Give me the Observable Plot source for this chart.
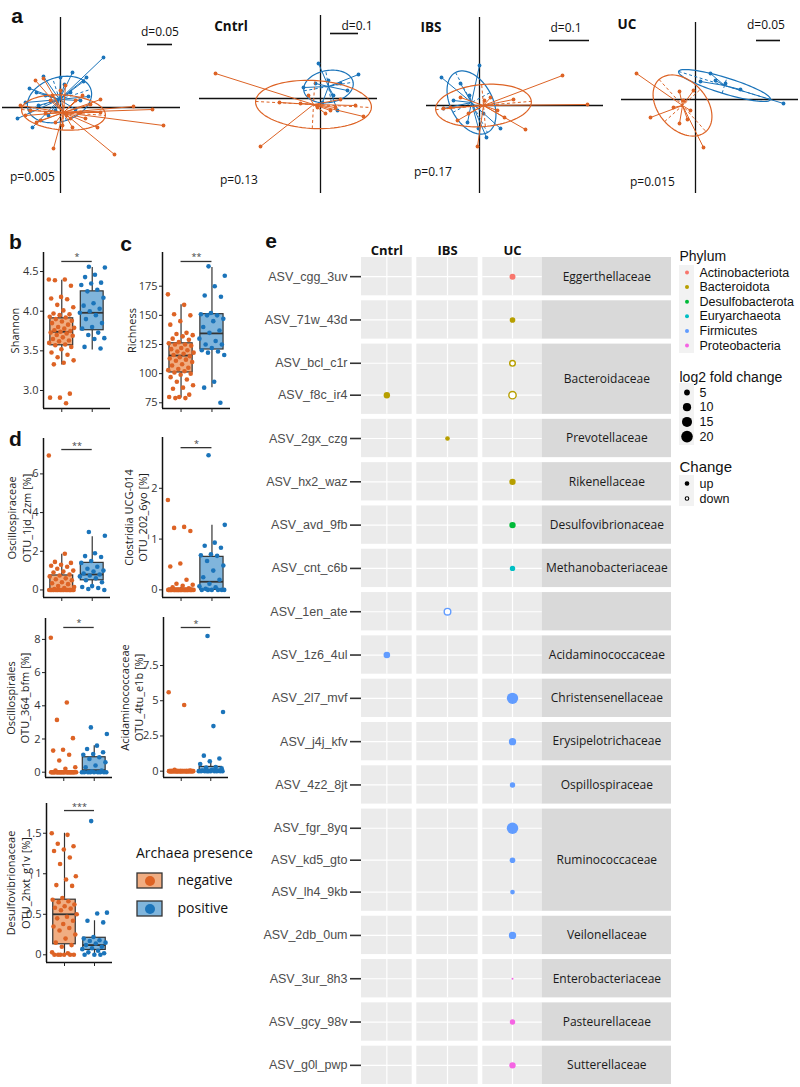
<!DOCTYPE html>
<html><head><meta charset="utf-8">
<script src="https://cdn.jsdelivr.net/npm/d3@7"></script>
<script src="https://cdn.jsdelivr.net/npm/@observablehq/plot@0.6"></script>
<style>
body{margin:0;background:#fff;}
#root{position:relative;width:800px;height:1087px;overflow:hidden;background:#fff;font-family:"Open Sans",sans-serif;color:#111;}
.lbl{position:absolute;white-space:nowrap;line-height:1;}
</style></head>
<body><div id="root"></div>
<script>
// ---------------- DATA ----------------
// Panel a: ordination scores [axis1, axis2] (plot units), negative / positive archaea
const ordTitles = ["", "Cntrl", "IBS", "UC"];
const ordPValues = ["p=0.005", "p=0.13", "p=0.17", "p=0.015"];
const ordGridLabels = ["d=0.05", "d=0.1", "d=0.1", "d=0.05"];
const ordAllNeg = [[103,-18],[92,-2],[73,1],[54,-47],[-7,-41],[37,-20],[40,8],[-25,27],[-17,29],[0,17],[30,3],[20,-5],[10,-11],[-20,-13],[-15,-6],[-30,-3],[-5,-15],[15,7],[6,-8],[25,-11],[-10,7],[2,-18],[40,-5],[-24,-15],[-35,-8],[12,-20],[-8,12],[22,12],[-40,2],[5,22]];
const ordAllPos = [[43,50],[12,35],[23,26],[-31,19],[-43,-11],[-28,-20],[-17,31],[26,30],[10,15],[-15,12],[-22,2],[20,7],[-5,-3],[-12,-8],[4,23],[28,11],[-24,15],[-35,5],[0,30],[15,-2]];
const ordCntrlNeg = [[-105,25],[-60,-48],[43,-18],[35,-7],[20,-1],[-41,-4],[15,-9],[10,-12],[-3,-9],[-12,3],[-20,-5],[5,-15]];
const ordCntrlPos = [[-2,35],[38,24],[-17,11],[17,-12],[-5,15],[13,3],[27,8],[2,-4],[8,18],[20,15]];
const ordIbsNeg = [[83,30],[108,1],[46,-24],[-2,-41],[34,6],[18,-5],[-29,-2],[-19,8],[-22,-15],[-36,-3],[11,8],[-11,-8],[25,-12],[5,5]];
const ordIbsPos = [[-38,28],[0,40],[21,-23],[7,-32],[-12,-17],[-36,-3],[-1,-23],[-19,22],[-26,5],[4,-8],[-10,10]];
const ordUcNeg = [[-59,26],[-45,-18],[8,-48],[-16,-24],[-16,8],[-2,9],[-5,-11],[-12,-1],[-22,-8],[-8,-20]];
const ordUcPos = [[88,-4],[15,26],[5,18],[30,16],[20,19],[45,10]];
// group ellipses: [centre x, centre y, semi-axis a, semi-axis b, angle deg]
const ordEllipseNeg = [[3,-5,42,17.5,-4],[-7,-6,58,24,-3],[4,0,48,21,5],[-13,-6,35,24,-48]];
const ordEllipsePos = [[-1,8,33,22,18],[8,12,25,16,10],[-8,3,34,21,-62],[29,14,48,8,-17]];

// Panels b, c: alpha diversity
const shannonNeg = [4.40,4.40,4.39,4.32,4.18,4.16,4.15,4.08,4.05,4.01,3.97,3.96,3.95,3.93,3.92,3.90,3.88,3.87,3.85,3.83,3.80,3.79,3.78,3.76,3.75,3.74,3.73,3.72,3.70,3.69,3.67,3.65,3.63,3.62,3.60,3.58,3.57,3.55,3.52,3.48,3.45,3.42,3.38,3.35,3.33,2.96,2.91,2.91,2.84];
const shannonPos = [4.56,4.55,4.46,4.43,4.36,4.35,4.33,4.27,4.25,4.17,4.10,4.07,4.03,4.00,3.98,3.95,3.90,3.85,3.80,3.78,3.73,3.70,3.66,3.65,3.55,3.53];
const shannonBoxNeg = [3.32,3.57,3.74,3.91,4.39];
const shannonBoxPos = [3.51,3.76,3.98,4.25,4.55];
const shannonTicks = [3,3.5,4,4.5];
const richnessNeg = [168,159,151,150,145,142,135,134,133,132,130,129,127,126,125,125,124,122,121,120,119,118,117,116,115,114,113,112,111,110,108,107,105,104,103,102,101,100,99,97,95,93,90,88,87,82,80,80,79,79];
const richnessPos = [192,184,175,167,166,152,151,150,150,147,145,140,137,135,130,128,125,125,122,120,119,118,116,93,88,75];
const richnessBoxNeg = [79,101,115.5,126,159];
const richnessBoxPos = [88,120.7,134.5,151,191];
const richnessTicks = [75,100,125,150,175];

// Panel d: relative abundances [%]
const osc1Neg = [6.95,1.87,1.45,1.40,1.30,1.25,1.20,1.10,1.00,0.95,0.90,0.80,0.75,0.70,0.60,0.55,0.50,0.40,0.35,0.30,0.20,0.15,0.10,0.05,0,0,0,0,0,0,0,0,0,0,0,0,0,0,0,0,0,0,0,0,0,0];
const osc1Pos = [3.00,2.80,1.90,1.75,1.70,1.50,1.40,1.20,1.10,1.00,0.95,0.85,0.80,0.75,0.70,0.60,0.50,0.40,0.20,0.15,0.10,0.05,0];
const osc1BoxNeg = [0,0,0.04,0.75,1.85];
const osc1BoxPos = [0.12,0.5,0.8,1.4,2.75];
const osc1Ticks = [0,2,4,6];
const closNeg = [1.77,1.24,1.22,1.16,0.52,0.46,0.20,0.12,0.10,0.08,0.05,0.03,0,0,0,0,0,0,0,0,0,0,0,0,0,0,0,0,0,0,0,0,0,0,0,0,0,0,0,0,0,0];
const closPos = [2.65,1.28,0.93,0.87,0.83,0.70,0.68,0.67,0.57,0.48,0.38,0.25,0.20,0.12,0.07,0.05,0.02,0,0,0,0,0,0];
const closBoxNeg = [0,0,0,0.02,0.05];
const closBoxPos = [0,0,0.16,0.65,1.27];
const closTicks = [0,1,2];
const oscsNeg = [8.1,4.2,3.15,2.05,1.35,1.3,1.05,0.7,0.3,0.2,0.1,0,0,0,0,0,0,0,0,0,0,0,0,0,0,0,0,0,0,0,0,0,0,0,0,0,0,0,0,0,0,0];
const oscsPos = [2.7,2.3,1.6,1.4,1.2,1.1,1.05,0.9,0.8,0.6,0.4,0.3,0.1,0.05,0,0,0,0,0,0,0,0,0];
const oscsBoxNeg = [0,0,0,0.03,0.06];
const oscsBoxPos = [0,0.03,0.12,0.9,1.6];
const oscsTicks = [0,2,4,6,8];
const acidNeg = [5.6,4.7,0.1,0.05,0,0,0,0,0,0,0,0,0,0,0,0,0,0,0,0,0,0,0,0,0,0,0,0,0,0,0,0,0,0,0,0,0,0,0,0,0,0];
const acidPos = [9.6,4.2,3.2,1.1,0.9,0.7,0.5,0.3,0.25,0.2,0.1,0.05,0.02,0,0,0,0,0,0,0,0,0,0];
const acidBoxNeg = [0,0,0,0.03,0.06];
const acidBoxPos = [0,0.02,0.1,0.3,0.65];
const acidTicks = [0,2.5,5,7.5];
const desuNeg = [1.50,1.48,1.37,1.34,1.30,1.28,1.20,1.12,0.97,0.93,0.86,0.85,0.70,0.68,0.66,0.65,0.62,0.60,0.58,0.57,0.55,0.50,0.47,0.45,0.42,0.38,0.35,0.33,0.30,0.25,0.20,0.15,0.12,0.10,0.03,0.02,0,0,0,0,0,0];
const desuPos = [1.65,0.52,0.51,0.42,0.40,0.22,0.20,0.18,0.17,0.15,0.14,0.12,0.10,0.08,0.07,0.05,0.03,0.02,0,0,0];
const desuBoxNeg = [0,0.13,0.5,0.68,1.5];
const desuBoxPos = [0,0.06,0.12,0.21,0.42];
const desuTicks = [0,0.5,1,1.5];
const sigValues = [4.627,196.2,7.26,2.80,8.72,10.2,1.78];
const sigStars = ["*","**","**","*","*","*","***"];
const presenceLevels = ["negative","positive"];

// Panel e: differentially abundant ASVs
const asvNames = ["ASV_cgg_3uv","ASV_71w_43d","ASV_bcl_c1r","ASV_f8c_ir4","ASV_2gx_czg","ASV_hx2_waz","ASV_avd_9fb","ASV_cnt_c6b","ASV_1en_ate","ASV_1z6_4ul","ASV_2l7_mvf","ASV_j4j_kfv","ASV_4z2_8jt","ASV_fgr_8yq","ASV_kd5_gto","ASV_lh4_9kb","ASV_2db_0um","ASV_3ur_8h3","ASV_gcy_98v","ASV_g0l_pwp"];
const asvFamily = ["Eggerthellaceae","","Bacteroidaceae","Bacteroidaceae","Prevotellaceae","Rikenellaceae","Desulfovibrionaceae","Methanobacteriaceae","","Acidaminococcaceae","Christensenellaceae","Erysipelotrichaceae","Ospillospiraceae","Ruminococcaceae","Ruminococcaceae","Ruminococcaceae","Veilonellaceae","Enterobacteriaceae","Pasteurellaceae","Sutterellaceae"];
const asvPhylum = ["Actinobacteriota","Bacteroidota","Bacteroidota","Bacteroidota","Bacteroidota","Bacteroidota","Desulfobacterota","Euryarchaeota","Firmicutes","Firmicutes","Firmicutes","Firmicutes","Firmicutes","Firmicutes","Firmicutes","Firmicutes","Firmicutes","Proteobacteria","Proteobacteria","Proteobacteria"];
const diagnosisGroups = ["Cntrl","IBS","UC"];
const hitAsv = ["ASV_cgg_3uv","ASV_71w_43d","ASV_bcl_c1r","ASV_f8c_ir4","ASV_f8c_ir4","ASV_2gx_czg","ASV_hx2_waz","ASV_avd_9fb","ASV_cnt_c6b","ASV_1en_ate","ASV_1z6_4ul","ASV_2l7_mvf","ASV_j4j_kfv","ASV_4z2_8jt","ASV_fgr_8yq","ASV_kd5_gto","ASV_lh4_9kb","ASV_2db_0um","ASV_3ur_8h3","ASV_gcy_98v","ASV_g0l_pwp"];
const hitGroup = ["UC","UC","UC","Cntrl","UC","IBS","UC","UC","UC","IBS","Cntrl","UC","UC","UC","UC","UC","UC","UC","UC","UC","UC"];
const hitLog2FC = [5.3,4.7,4.7,6,8,3.2,6,6,4.3,6.5,6.5,19,8,4.3,19.5,4.7,3.3,8,0.6,4.3,6];
const hitChange = ["up","up","down","up","down","up","up","up","up","down","up","up","up","up","up","up","up","up","up","up","up"];
const phylumLevels = ["Actinobacteriota","Bacteroidota","Desulfobacterota","Euryarchaeota","Firmicutes","Proteobacteria"];
const lfcBreaks = [5,10,15,20];
const changeLevels = ["up","down"];

// ---------------- STYLE ----------------
const ORANGE = "#DD6325", BLUE = "#1B74BA", ORANGE_L = "#F0AD82", BLUE_L = "#80B5DC";
const PHYLUM_COLORS = ["#F8766D","#B79F00","#00BA38","#00BFC4","#619CFF","#F564E3"];
const MYRIAD = "Open Sans", ARIAL = "Liberation Sans";
const root = document.getElementById("root");
const TRANSP = {background:"transparent", overflow:"visible"};

function place(node, left, top) {
  node.style.position = "absolute"; node.style.left = left + "px"; node.style.top = top + "px";
  root.appendChild(node);
}
function label(text, x, y, css = {}, anchor = "middle") {
  const d = document.createElement("div");
  d.className = "lbl"; d.textContent = text;
  d.style.left = x + "px"; d.style.top = y + "px";
  d.style.transform = anchor === "start" ? "translate(0,-50%)" : "translate(-50%,-50%)";
  Object.assign(d.style, css);
  root.appendChild(d);
}

// ---------------- PANEL a ----------------
const ordNeg = [ordAllNeg, ordCntrlNeg, ordIbsNeg, ordUcNeg];
const ordPos = [ordAllPos, ordCntrlPos, ordIbsPos, ordUcPos];
const ordLayout = [
  {left:0, width:190, ox:60, oy:107, ext:[-58,120,90,-86], bar:[63,87,112]},
  {left:195, width:190, ox:320, oy:98, ext:[-121,57,83,-95], bar:[65,10,38]},
  {left:420, width:190, ox:479, oy:105, ext:[-53,124,88,-88], bar:[65,70,110]},
  {left:615, width:185, ox:695, oy:99, ext:[-74,103,77,-94], bar:[59,61,85]}
];
function ellipsePts([cx, cy, a, b, deg]) {
  const t = deg * Math.PI / 180;
  return d3.range(0, 361, 4).map(k => {
    const u = k * Math.PI / 180;
    return {x: cx + a*Math.cos(u)*Math.cos(t) - b*Math.sin(u)*Math.sin(t),
            y: cy + a*Math.cos(u)*Math.sin(t) + b*Math.sin(u)*Math.cos(t)};
  });
}
function ellipseAxes([cx, cy, a, b, deg]) {
  const t = deg * Math.PI / 180;
  return [
    {x1: cx - a*Math.cos(t), y1: cy - a*Math.sin(t), x2: cx + a*Math.cos(t), y2: cy + a*Math.sin(t)},
    {x1: cx + b*Math.sin(t), y1: cy - b*Math.cos(t), x2: cx - b*Math.sin(t), y2: cy + b*Math.cos(t)}
  ];
}
function groupMarks(pts, ell, color) {
  return [
    Plot.link(pts, {x1: ell[0], y1: ell[1], x2: d => d[0], y2: d => d[1], stroke: color, strokeWidth: 1}),
    Plot.line(ellipsePts(ell), {x: "x", y: "y", stroke: color, strokeWidth: 1.2}),
    Plot.link(ellipseAxes(ell), {x1: "x1", y1: "y1", x2: "x2", y2: "y2", stroke: color, strokeWidth: 1, strokeDasharray: "3,2.5"}),
    Plot.dot(pts, {x: d => d[0], y: d => d[1], r: 1.9, fill: color})
  ];
}
ordLayout.forEach((L, k) => {
  const H = 197;
  const svg = Plot.plot({
    width: L.width, height: H, margin: 0,
    x: {domain: [L.left - L.ox, L.left + L.width - L.ox], range: [0, L.width], axis: null},
    y: {domain: [L.oy - H, L.oy], range: [H, 0], axis: null},
    style: TRANSP,
    marks: [
      Plot.ruleY([0], {x1: L.ext[0], x2: L.ext[1], stroke: "#111", strokeWidth: 1.3}),
      Plot.ruleX([0], {y1: L.ext[2], y2: L.ext[3], stroke: "#111", strokeWidth: 1.3}),
      ...groupMarks(ordPos[k], ordEllipsePos[k], BLUE),
      ...groupMarks(ordNeg[k], ordEllipseNeg[k], ORANGE),
      Plot.ruleY([L.bar[0]], {x1: L.bar[1], x2: L.bar[2], stroke: "#111", strokeWidth: 1.6})
    ]
  });
  place(svg, L.left, 0);
});
const ordTextPos = [
  {title:[0,0], grid:[160,32], p:[10,177]},
  {title:[231,27], grid:[357,26], p:[220,180]},
  {title:[431,28], grid:[566,28], p:[414,172]},
  {title:[627,25], grid:[766,25], p:[630,182]}
];
ordTextPos.forEach((t, k) => {
  if (ordTitles[k]) label(ordTitles[k], t.title[0], t.title[1], {fontFamily: MYRIAD, fontWeight: "700", fontSize: "13.5px"});
  label(ordGridLabels[k], t.grid[0], t.grid[1], {fontFamily: MYRIAD, fontSize: "12px"});
  label(ordPValues[k], t.p[0], t.p[1], {fontFamily: MYRIAD, fontSize: "12px"}, "start");
});

// ---------------- PANELS b, c, d ----------------
const boxPanels = [
  {neg: shannonNeg, pos: shannonPos, nb: shannonBoxNeg, pb: shannonBoxPos, ticks: shannonTicks, fmt: d3.format(".1f"), label: "Shannon",
   geom: [43,252,408,110], domain: [2.773,4.740], labelX: 14, svgLeft: 0},
  {neg: richnessNeg, pos: richnessPos, nb: richnessBoxNeg, pb: richnessBoxPos, ticks: richnessTicks, fmt: d => d, label: "Richness",
   geom: [162,252,408,230], domain: [70.1,203.9], labelX: 131, svgLeft: 115},
  {neg: osc1Neg, pos: osc1Pos, nb: osc1BoxNeg, pb: osc1BoxPos, ticks: osc1Ticks, fmt: d => d, label: "Oscillospiraceae\nOTU_1jd_2zm [%]",
   geom: [43,438,597,110], domain: [-0.39,7.83], labelX: 18.5, svgLeft: 0},
  {neg: closNeg, pos: closPos, nb: closBoxNeg, pb: closBoxPos, ticks: closTicks, fmt: d => d, label: "Clostridia UCG-014\nOTU_202_6yo [%]",
   geom: [162,437,597,230], domain: [-0.15,3.0], labelX: 135, svgLeft: 115},
  {neg: oscsNeg, pos: oscsPos, nb: oscsBoxNeg, pb: oscsBoxPos, ticks: oscsTicks, fmt: d => d, label: "Oscillospirales\nOTU_364_bfm [%]",
   geom: [45,618,777,112], domain: [-0.32,9.26], labelX: 17, svgLeft: 0},
  {neg: acidNeg, pos: acidPos, nb: acidBoxNeg, pb: acidBoxPos, ticks: acidTicks, fmt: d => d, label: "Acidaminococcaceae\nOTU_4tu_e1b [%]",
   geom: [163,617,777,228], domain: [-0.45,10.91], labelX: 131, svgLeft: 115},
  {neg: desuNeg, pos: desuPos, nb: desuBoxNeg, pb: desuBoxPos, ticks: desuTicks, fmt: d => d, label: "Desulfovibrionaceae\nOTU_2hxt_g1v [%]",
   geom: [46,803,962,112], domain: [-0.095,1.867], labelX: 17.5, svgLeft: 0}
];
const jitter = (g, i) => g + ((i * 0.6180339887 + (g === 2 ? 0.37 : 0)) % 1 - 0.5) * 0.85;
boxPanels.forEach((p, k) => {
  const [ax, top, bottom, right] = p.geom;
  const mt = 12, mb = 8, mr = 5;
  const ml = ax - p.svgLeft;
  const width = right - p.svgLeft + mr;
  const height = bottom - top + mt + mb;
  const boxes = [{g: 1, s: p.nb, fill: ORANGE_L}, {g: 2, s: p.pb, fill: BLUE_L}];
  const negPts = p.neg.map((v, i) => ({x: jitter(1, i), v}));
  const posPts = p.pos.map((v, i) => ({x: jitter(2, i), v}));
  const svg = Plot.plot({
    width, height, marginLeft: ml, marginRight: mr, marginTop: mt, marginBottom: mb,
    x: {domain: [0.4, 2.6], axis: null},
    y: {domain: p.domain, axis: null},
    style: {...TRANSP, fontFamily: MYRIAD, fontSize: "11px", color: "#222"},
    marks: [
      Plot.ruleX(boxes, {x: "g", y1: d => d.s[0], y2: d => d.s[1], stroke: "#333", strokeWidth: 1.2}),
      Plot.ruleX(boxes, {x: "g", y1: d => d.s[3], y2: d => d.s[4], stroke: "#333", strokeWidth: 1.2}),
      Plot.rect(boxes, {x1: d => d.g - 0.375, x2: d => d.g + 0.375, y1: d => d.s[1], y2: d => d.s[3], fill: "fill", stroke: "#333", strokeWidth: 1.2}),
      Plot.ruleY(boxes, {y: d => d.s[2], x1: d => d.g - 0.375, x2: d => d.g + 0.375, stroke: "#333", strokeWidth: 1.8}),
      Plot.dot(negPts, {x: "x", y: "v", r: 2.3, fill: ORANGE}),
      Plot.dot(posPts, {x: "x", y: "v", r: 2.3, fill: BLUE}),
      Plot.ruleY([sigValues[k]], {x1: 1, x2: 2, stroke: "#333", strokeWidth: 1.3}),
      Plot.text([sigStars[k]], {x: 1.5, y: sigValues[k], dy: -1, lineAnchor: "bottom", fontSize: 9, fill: "#444"}),
      Plot.ruleX([0.4], {stroke: "#111", strokeWidth: 1.5}),
      Plot.ruleY([p.domain[0]], {stroke: "#111", strokeWidth: 1.5}),
      Plot.axisY({ticks: p.ticks, tickFormat: p.fmt, tickSize: 3, tickPadding: 2, stroke: "#222", fill: "#333", label: null}),
      Plot.axisX({ticks: [1, 2], tickSize: 4, tickFormat: () => "", stroke: "#222", label: null}),
      Plot.text([p.label], {frameAnchor: "left", textAnchor: "middle", lineAnchor: "middle", rotate: -90, dx: p.labelX - ax, fontSize: 11, lineHeight: 1.3, fill: "#222"})
    ]
  });
  place(svg, p.svgLeft, top - mt);
});
label("a", 17, 15, {fontFamily: ARIAL, fontWeight: "700", fontSize: "21px"});
label("b", 15.5, 241, {fontFamily: ARIAL, fontWeight: "700", fontSize: "21px"});
label("c", 126, 243, {fontFamily: ARIAL, fontWeight: "700", fontSize: "21px"});
label("d", 15.5, 438, {fontFamily: ARIAL, fontWeight: "700", fontSize: "21px"});
label("e", 271, 240, {fontFamily: ARIAL, fontWeight: "700", fontSize: "21px"});

// Archaea presence legend
label("Archaea presence", 136, 853, {fontFamily: MYRIAD, fontSize: "14px"}, "start");
{
  const svg = Plot.plot({
    width: 110, height: 58, margin: 0,
    x: {domain: [0, 110], range: [0, 110], axis: null},
    y: {type: "band", domain: presenceLevels, range: [6, 51], paddingInner: 0.448, paddingOuter: 0, axis: null},
    style: TRANSP,
    marks: [
      Plot.barX(presenceLevels, {x1: 1, x2: 26, y: d => d, fill: d => d === "negative" ? ORANGE_L : BLUE_L, stroke: "#333", strokeWidth: 1.3}),
      Plot.dot(presenceLevels, {x: 13.5, y: d => d, r: 5, fill: d => d === "negative" ? ORANGE : BLUE}),
      Plot.text(presenceLevels, {x: 41, y: d => d, text: d => d, textAnchor: "start", fontSize: 14, fontFamily: MYRIAD, fill: "#111"})
    ]
  });
  place(svg, 136, 866);
}

// ---------------- PANEL e ----------------
{
  const rows = asvNames.map((name, i) => ({name, family: asvFamily[i], phylum: asvPhylum[i]}));
  const groups = [];
  rows.forEach(r => {
    const last = groups[groups.length - 1];
    if (last && r.family !== "" && last.family === r.family) last.members.push(r);
    else groups.push({family: r.family, members: [r]});
  });
  const EXP = 0.6, GAP = 5 / 32;
  let cur = 0;
  groups.forEach(g => {
    g.top = cur;
    g.members.forEach((m, k) => { m.y = cur + EXP + k; });
    g.bottom = cur + 2 * EXP + g.members.length - 1;
    g.mid = (g.top + g.bottom) / 2;
    cur = g.bottom + GAP;
  });
  const total = cur - GAP;
  const yOf = new Map(rows.map(r => [r.name, r.y]));
  const nameAt = new Map(rows.map(r => [r.y, r.name]));
  const colBounds = [[0, 50.7], [55.3, 116.7], [121.3, 180.7]];
  const strip = [180.7, 310];
  const cols = diagnosisGroups.map((c, i) => ({name: c, x1: colBounds[i][0], x2: colBounds[i][1], cx: (colBounds[i][0] + colBounds[i][1]) / 2}));
  const colX = new Map(cols.map(c => [c.name, c.cx]));
  const cells = groups.flatMap(g => cols.map(c => ({g, c})));
  const rowCells = rows.flatMap(r => cols.map(c => ({r, c})));
  const hits = hitAsv.map((a, i) => ({asv: a, group: hitGroup[i], lfc: hitLog2FC[i], change: hitChange[i], phylum: asvPhylum[asvNames.indexOf(a)]}));
  const W = 430, H = 859, ml = 111, mt = 29;
  const svg = Plot.plot({
    width: W, height: H, marginLeft: ml, marginRight: W - ml - 310, marginTop: mt, marginBottom: H - mt - 827,
    x: {domain: [0, 310], axis: null},
    y: {domain: [0, total], reverse: true, axis: null},
    r: {type: "sqrt", domain: [0, 20], range: [0, 5.8]},
    color: {domain: phylumLevels, range: PHYLUM_COLORS},
    style: {...TRANSP, fontFamily: ARIAL, fontSize: "12.5px"},
    marks: [
      Plot.rect(cells, {x1: d => d.c.x1, x2: d => d.c.x2, y1: d => d.g.top, y2: d => d.g.bottom, fill: "#EBEBEB"}),
      Plot.rect(groups, {x1: strip[0], x2: strip[1], y1: "top", y2: "bottom", fill: "#D9D9D9"}),
      Plot.ruleY(rowCells, {y: d => d.r.y, x1: d => d.c.x1, x2: d => d.c.x2, stroke: "white", strokeWidth: 1.2}),
      Plot.ruleX(cells, {x: d => d.c.cx, y1: d => d.g.top, y2: d => d.g.bottom, stroke: "white", strokeWidth: 1.2}),
      Plot.dot(hits.filter(d => d.change === "up"), {x: d => colX.get(d.group), y: d => yOf.get(d.asv), r: "lfc", fill: "phylum"}),
      Plot.dot(hits.filter(d => d.change === "down"), {x: d => colX.get(d.group), y: d => yOf.get(d.asv), r: "lfc", fill: "white", stroke: "phylum", strokeWidth: 1.4}),
      Plot.text(groups, {x: (strip[0] + strip[1]) / 2, y: "mid", text: "family", fontFamily: MYRIAD, fontSize: 12, fill: "#1A1A1A"}),
      Plot.text(cols, {x: "cx", y: 0, dy: -7, text: "name", fontFamily: MYRIAD, fontWeight: "bold", fontSize: 13, fill: "#111"}),
      Plot.axisY({ticks: rows.map(r => r.y), tickFormat: d => nameAt.get(d), tickSize: 11, tickPadding: 3, stroke: "#333", strokeWidth: 1.6, fill: "#4D4D4D", label: null})
    ]
  });
  place(svg, 250, 228);
}

// Panel e legends
{
  const lg = Plot.plot({
    width: 128, height: 270, margin: 0,
    x: {domain: [0, 128], range: [0, 128], axis: null},
    y: {domain: [0, 270], range: [0, 270], axis: null},
    r: {type: "sqrt", domain: [0, 20], range: [0, 5.8]},
    color: {domain: phylumLevels, range: PHYLUM_COLORS},
    style: {...TRANSP, fontFamily: ARIAL},
    marks: [
      Plot.text(["Phylum"], {x: 7, y: 11, textAnchor: "start", fontSize: 14, fill: "#111"}),
      Plot.rect([0], {x1: 7, x2: 22, y1: 20, y2: 108, fill: "#F2F2F2"}),
      Plot.dot(phylumLevels, {x: 14.5, y: (d, i) => 27 + i * 14.6, r: 2, fill: d => d}),
      Plot.text(phylumLevels, {x: 27, y: (d, i) => 27 + i * 14.6, text: d => d, textAnchor: "start", fontSize: 12.5, fill: "#111"}),
      Plot.text(["log2 fold change"], {x: 7, y: 132, textAnchor: "start", fontSize: 14, fill: "#111"}),
      Plot.rect([0], {x1: 7, x2: 22, y1: 138, y2: 200, fill: "#F2F2F2"}),
      Plot.dot(lfcBreaks, {x: 14.5, y: (d, i) => 147 + i * 14.7, r: d => d, fill: "black"}),
      Plot.text(lfcBreaks, {x: 27, y: (d, i) => 147 + i * 14.7, text: d => String(d), textAnchor: "start", fontSize: 12.5, fill: "#111"}),
      Plot.text(["Change"], {x: 7, y: 222, textAnchor: "start", fontSize: 15, fill: "#111"}),
      Plot.rect([0], {x1: 7, x2: 22, y1: 230, y2: 261, fill: "#F2F2F2"}),
      Plot.dot(changeLevels, {x: 14.5, y: (d, i) => 238 + i * 15, r: 1.8, fill: d => d === "up" ? "black" : "white", stroke: "black", strokeWidth: 1.1}),
      Plot.text(changeLevels, {x: 27, y: (d, i) => 238 + i * 15, text: d => d, textAnchor: "start", fontSize: 12.5, fill: "#111"})
    ]
  });
  place(lg, 672, 245);
}
</script>
</body></html>
